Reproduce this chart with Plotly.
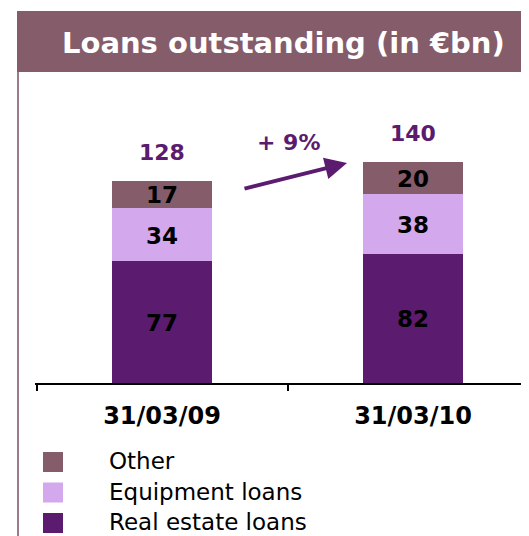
import plotly.graph_objects as go

categories = ["31/03/09", "31/03/10"]
real_estate = [77, 82]
equipment = [34, 38]
other = [17, 20]
totals = [128, 140]
series_names = ["Real estate loans", "Equipment loans", "Other"]
growth_label = "+ 9%"
title_text = "Loans outstanding (in €bn)"

C_REAL = "#5B1B6F"
C_EQUIP = "#D4A8EC"
C_OTHER = "#845C6A"
FONT = "DejaVu Sans"

# The page body has an 8px margin, so the figure is drawn 8px in from the window edge.
OFF = 8
W, H = 529 - OFF, 536 - OFF


def px(X):
    return (X - OFF) / W


def py(Y):
    return 1 - (Y - OFF) / H


fig = go.Figure()
series = [real_estate, equipment, other]
colors = [C_REAL, C_EQUIP, C_OTHER]
for name, vals, col in zip(series_names, series, colors):
    fig.add_trace(go.Bar(x=categories, y=vals, name=name, marker=dict(color=col, line=dict(width=0)),
                         width=0.40, showlegend=False, hoverinfo="skip"))

annotations = []
for i, cat in enumerate(categories):
    base = 0
    for vals in series:
        v = vals[i]
        annotations.append(dict(x=cat, y=base + v / 2, xref="x", yref="y", text=f"<b>{v}</b>",
                                showarrow=False, font=dict(family=FONT, size=23, color="black"),
                                xanchor="center", yanchor="middle", yshift=-1))
        base += v
    annotations.append(dict(x=cat, y=totals[i], xref="x", yref="y", text=f"<b>{totals[i]}</b>",
                            showarrow=False, font=dict(family=FONT, size=22, color=C_REAL),
                            xanchor="center", yanchor="middle", yshift=28))

# growth arrow
annotations.append(dict(x=px(347), y=py(163), xref="paper", yref="paper", ax=-104, ay=26,
                        axref="pixel", ayref="pixel", showarrow=True, arrowhead=2, arrowsize=1.1,
                        arrowwidth=4, arrowcolor=C_REAL, text="", standoff=0))
annotations.append(dict(x=px(288), y=py(142), xref="paper", yref="paper", text=f"<b>{growth_label}</b>",
                        showarrow=False, xanchor="center", yanchor="middle",
                        font=dict(family=FONT, size=22, color=C_REAL)))

# title
annotations.append(dict(x=px(283), y=py(43), xref="paper", yref="paper", text=f"<b>{title_text}</b>",
                        showarrow=False, xanchor="center", yanchor="middle",
                        font=dict(family=FONT, size=29, color="white")))

shapes = [
    dict(type="rect", xref="paper", yref="paper", x0=px(17), x1=1, y0=py(72), y1=py(11),
         fillcolor=C_OTHER, line=dict(width=0), layer="below"),
    dict(type="line", xref="paper", yref="paper", x0=px(18), x1=px(18), y0=0, y1=py(72),
         line=dict(color="#9C7C8A", width=2)),
]

leg_items = list(zip(series_names, colors))[::-1]
for k, (name, col) in enumerate(leg_items):
    cy = 462 + k * 30.5
    shapes.append(dict(type="rect", xref="paper", yref="paper", x0=px(43), x1=px(63),
                       y0=py(cy + 10), y1=py(cy - 10), fillcolor=col, line=dict(width=0)))
    annotations.append(dict(x=px(107), y=py(cy - 1), xref="paper", yref="paper", text=name,
                            showarrow=False, xanchor="left", yanchor="middle",
                            font=dict(family=FONT, size=23, color="black")))

fig.update_layout(
    width=W, height=H, margin=dict(l=0, r=0, t=0, b=0),
    paper_bgcolor="white", plot_bgcolor="white",
    barmode="stack", showlegend=False,
    annotations=annotations, shapes=shapes,
    xaxis=dict(domain=[px(35), 1], range=[-0.506, 1.462], showline=True, linecolor="black", linewidth=2,
               ticks="outside", tickson="boundaries", ticklen=6, tickwidth=2, tickcolor="black",
               showgrid=False, zeroline=False, type="category", ticklabelstandoff=10,
               tickfont=dict(family=FONT, size=24, color="black", weight="bold")),
    yaxis=dict(domain=[py(383), py(72)], range=[0, 197], visible=False, showgrid=False),
)

fig.write_html("out.html")
